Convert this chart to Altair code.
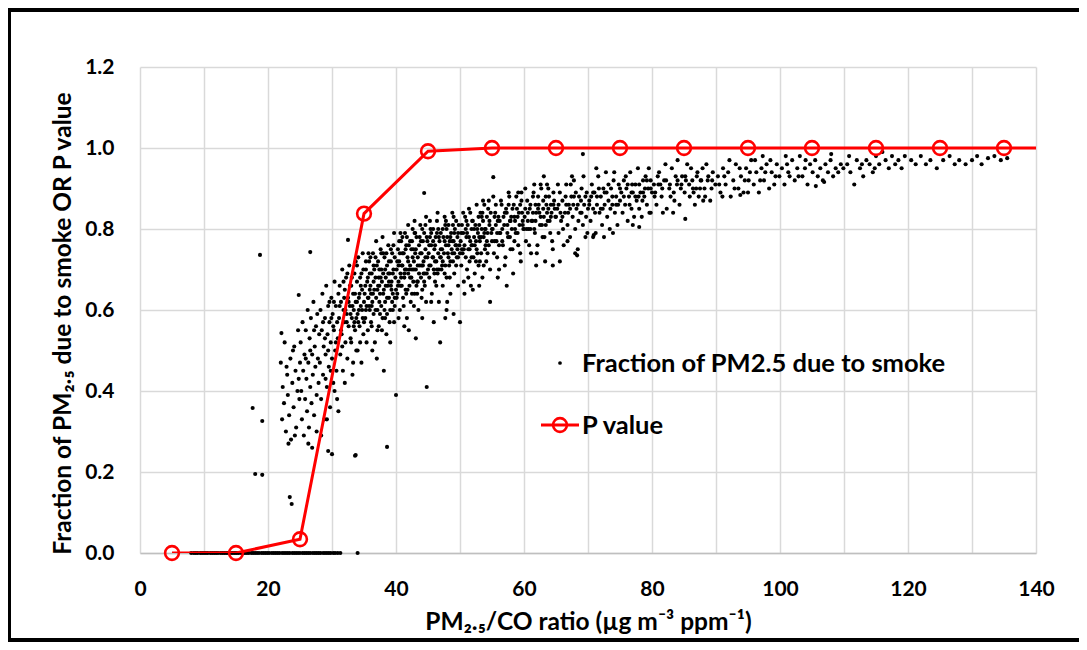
import altair as alt
import pandas as pd

# ---------------- P value series ----------------
p_x = [5, 15, 25, 35, 45, 55, 65, 75, 85, 95, 105, 115, 125, 135, 145]
p_y = [0.0, 0.0, 0.034, 0.838, 0.992, 1.0, 1.0, 1.0, 1.0, 1.0, 1.0, 1.0, 1.0, 1.0, 1.0]

# ---------------- Fraction of PM2.5 due to smoke ----------------
smoke_zero_x = [8.0, 8.4, 8.7, 9.0, 9.4, 9.7, 10.0, 10.3, 10.6, 11.0, 11.3, 11.6, 11.9, 12.2, 12.6, 12.9,
                13.2, 13.5, 13.8, 14.2, 14.5, 14.8, 15.1, 15.4, 15.8, 16.1, 16.4, 16.7, 17.0, 17.4, 17.7,
                18.0, 18.3, 18.6, 19.0, 19.3, 19.6, 19.9, 20.2, 20.6, 20.9, 21.2, 21.5, 21.8, 22.2, 22.5,
                22.8, 23.1, 23.4, 23.8, 24.1, 24.4, 24.7, 25.0, 25.4, 25.7, 26.0, 26.3, 26.6, 27.0, 27.3,
                27.6, 27.9, 28.2, 28.6, 28.9, 29.2, 29.5, 29.8, 30.2, 30.5, 30.9, 31.3, 34.0]

smoke_outliers = [(18.75, 0.736), (26.6, 0.743), (32.5, 0.773), (24.8, 0.637), (22.1, 0.543),
                  (17.6, 0.358), (19.1, 0.326), (18.0, 0.195), (19.1, 0.193), (23.4, 0.138),
                  (23.7, 0.121), (33.7, 0.242), (30.0, 0.244), (29.4, 0.252), (26.9, 0.26),
                  (38.6, 0.262), (33.6, 0.24), (44.8, 0.41), (40.0, 0.39), (44.4, 0.889), (55.2, 0.928)]

smoke_22_28 = [(22.0, 0.47), (22.3, 0.41), (22.5, 0.37), (22.6, 0.52), (22.8, 0.30), (23.0, 0.44), (23.1, 0.39),
               (23.3, 0.34), (23.5, 0.48), (23.6, 0.28), (23.8, 0.42), (24.0, 0.36), (24.1, 0.51), (24.3, 0.45),
               (24.4, 0.31), (24.6, 0.40), (24.7, 0.55), (24.9, 0.38), (25.0, 0.47), (22.2, 0.33), (23.2, 0.27),
               (24.2, 0.29), (22.9, 0.46), (23.9, 0.50), (24.8, 0.43),
               (25.1, 0.52), (25.2, 0.40), (25.3, 0.33), (25.4, 0.57), (25.5, 0.45), (25.6, 0.29), (25.7, 0.49),
               (25.8, 0.38), (25.9, 0.55), (26.0, 0.43), (26.1, 0.35), (26.2, 0.60), (26.3, 0.47), (26.4, 0.31),
               (26.5, 0.53), (26.6, 0.41), (26.7, 0.58), (26.8, 0.37), (26.9, 0.49), (27.0, 0.44), (27.1, 0.62),
               (27.2, 0.34), (27.3, 0.51), (27.4, 0.46), (27.5, 0.56), (27.6, 0.39), (27.7, 0.59), (27.8, 0.48),
               (27.9, 0.42), (28.0, 0.54), (25.9, 0.48), (26.6, 0.50), (27.2, 0.55), (27.6, 0.30), (26.3, 0.27)]

smoke_28_35 = [(28.1, 0.47), (28.2, 0.60), (28.3, 0.38), (28.4, 0.55), (28.5, 0.64), (28.6, 0.44), (28.7, 0.51),
               (28.8, 0.33), (28.9, 0.58), (29.0, 0.49), (29.1, 0.66), (29.2, 0.41), (29.3, 0.54), (29.4, 0.61),
               (29.5, 0.46), (29.6, 0.57), (29.7, 0.36), (29.8, 0.52), (29.9, 0.63), (30.0, 0.48), (30.1, 0.59),
               (30.2, 0.42), (30.3, 0.55), (30.4, 0.67), (30.5, 0.50), (30.6, 0.61), (30.7, 0.45), (30.8, 0.57),
               (30.9, 0.53), (31.0, 0.64), (28.6, 0.57), (29.0, 0.43), (29.4, 0.50), (29.8, 0.45), (30.2, 0.56),
               (30.6, 0.52), (28.9, 0.53), (29.6, 0.62), (30.4, 0.40), (31.0, 0.35), (28.3, 0.29), (29.2, 0.33),
               (30.8, 0.38), (29.9, 0.58), (30.3, 0.62),
               (31.1, 0.58), (31.2, 0.66), (31.3, 0.49), (31.4, 0.62), (31.5, 0.54), (31.6, 0.70), (31.7, 0.45),
               (31.8, 0.60), (31.9, 0.57), (32.0, 0.65), (32.1, 0.52), (32.2, 0.68), (32.3, 0.59), (32.4, 0.48),
               (32.5, 0.63), (32.6, 0.56), (32.7, 0.71), (32.8, 0.61), (32.9, 0.53), (33.0, 0.66), (33.1, 0.58),
               (33.2, 0.44), (33.3, 0.64), (33.4, 0.60), (33.5, 0.69), (33.6, 0.55), (33.7, 0.62), (33.8, 0.50),
               (33.9, 0.67), (34.0, 0.59), (34.1, 0.73), (34.2, 0.63), (34.3, 0.56), (34.4, 0.68), (34.5, 0.61),
               (34.6, 0.47), (34.7, 0.65), (34.8, 0.58), (34.9, 0.70), (35.0, 0.62), (31.4, 0.55), (31.9, 0.63),
               (32.3, 0.57), (32.8, 0.66), (33.2, 0.61), (33.6, 0.64), (34.1, 0.57), (34.5, 0.66), (34.9, 0.54),
               (31.6, 0.51), (32.0, 0.42), (32.6, 0.62), (33.0, 0.52), (33.4, 0.56), (33.9, 0.62), (34.3, 0.64),
               (34.7, 0.60), (31.2, 0.61), (32.9, 0.59), (34.4, 0.52), (33.7, 0.72), (32.4, 0.69), (31.8, 0.67),
               (34.8, 0.74), (33.3, 0.47), (34.0, 0.50), (32.1, 0.60), (33.8, 0.58)]

smoke_35_40 = [(35.1, 0.64), (35.2, 0.58), (35.3, 0.70), (35.4, 0.61), (35.5, 0.67), (35.6, 0.55), (35.7, 0.63),
               (35.8, 0.72), (35.9, 0.60), (36.0, 0.66), (36.1, 0.57), (36.2, 0.69), (36.3, 0.62), (36.4, 0.74),
               (36.5, 0.59), (36.6, 0.65), (36.7, 0.52), (36.8, 0.68), (36.9, 0.63), (37.0, 0.71), (37.1, 0.60),
               (37.2, 0.66), (37.3, 0.56), (37.4, 0.70), (37.5, 0.64), (37.6, 0.75), (37.7, 0.61), (37.8, 0.67),
               (37.9, 0.58), (38.0, 0.69), (38.1, 0.65), (38.2, 0.73), (38.3, 0.62), (38.4, 0.68), (38.5, 0.54),
               (38.6, 0.71), (38.7, 0.66), (38.8, 0.76), (38.9, 0.63), (39.0, 0.69), (39.1, 0.60), (39.2, 0.72),
               (39.3, 0.67), (39.4, 0.74), (39.5, 0.64), (39.6, 0.70), (39.7, 0.57), (39.8, 0.73), (39.9, 0.68),
               (40.0, 0.65), (35.2, 0.66), (35.4, 0.52), (35.6, 0.68), (35.8, 0.61), (36.0, 0.73), (36.2, 0.56),
               (36.4, 0.64), (36.6, 0.70), (36.8, 0.60), (37.0, 0.48), (37.2, 0.72), (37.4, 0.62), (37.6, 0.68),
               (37.8, 0.55), (38.0, 0.74), (38.2, 0.60), (38.4, 0.66), (38.6, 0.63), (38.8, 0.69), (39.0, 0.57),
               (39.2, 0.66), (39.4, 0.62), (39.6, 0.76), (39.8, 0.63), (35.3, 0.60), (35.9, 0.65), (36.5, 0.71),
               (37.1, 0.65), (37.7, 0.70), (38.3, 0.58), (38.9, 0.72), (39.5, 0.60), (36.3, 0.50), (37.9, 0.78),
               (39.1, 0.52), (38.1, 0.45), (36.9, 0.77), (35.7, 0.74), (39.7, 0.79), (37.5, 0.59),
               (33.1, 0.68), (33.5, 0.57), (33.9, 0.71), (34.2, 0.60), (34.6, 0.69), (35.0, 0.57), (35.3, 0.72),
               (35.6, 0.63), (35.9, 0.69), (36.2, 0.61), (36.5, 0.67), (36.8, 0.73), (37.1, 0.55), (37.4, 0.66),
               (37.7, 0.74), (38.0, 0.64), (38.3, 0.70), (38.6, 0.59), (38.9, 0.67), (39.2, 0.75), (39.5, 0.69),
               (39.8, 0.61), (36.1, 0.64), (37.3, 0.68), (38.5, 0.74), (39.3, 0.65)]

smoke_40_45 = [(40.1, 0.70), (40.2, 0.64), (40.3, 0.75), (40.4, 0.67), (40.5, 0.72), (40.6, 0.60), (40.7, 0.69),
               (40.8, 0.77), (40.9, 0.66), (41.0, 0.71), (41.1, 0.63), (41.2, 0.74), (41.3, 0.68), (41.4, 0.79),
               (41.5, 0.65), (41.6, 0.70), (41.7, 0.58), (41.8, 0.73), (41.9, 0.69), (42.0, 0.76), (42.1, 0.66),
               (42.2, 0.71), (42.3, 0.62), (42.4, 0.75), (42.5, 0.70), (42.6, 0.80), (42.7, 0.67), (42.8, 0.72),
               (42.9, 0.64), (43.0, 0.74), (43.1, 0.70), (43.2, 0.78), (43.3, 0.67), (43.4, 0.73), (43.5, 0.60),
               (43.6, 0.76), (43.7, 0.71), (43.8, 0.81), (43.9, 0.68), (44.0, 0.74), (44.1, 0.65), (44.2, 0.77),
               (44.3, 0.72), (44.4, 0.79), (44.5, 0.69), (44.6, 0.75), (44.7, 0.62), (44.8, 0.78), (44.9, 0.73),
               (45.0, 0.70), (40.2, 0.72), (40.4, 0.58), (40.6, 0.74), (40.8, 0.68), (41.0, 0.78), (41.2, 0.61),
               (41.4, 0.70), (41.6, 0.76), (41.8, 0.65), (42.0, 0.55), (42.2, 0.77), (42.4, 0.68), (42.6, 0.73),
               (42.8, 0.61), (43.0, 0.79), (43.2, 0.66), (43.4, 0.71), (43.6, 0.69), (43.8, 0.74), (44.0, 0.63),
               (44.2, 0.71), (44.4, 0.67), (44.6, 0.81), (44.8, 0.69), (40.3, 0.66), (40.9, 0.71), (41.5, 0.75),
               (42.1, 0.70), (42.7, 0.75), (43.3, 0.64), (43.9, 0.77), (44.5, 0.66), (41.3, 0.56), (42.9, 0.82),
               (44.1, 0.58), (43.1, 0.53), (41.9, 0.81), (40.7, 0.79), (44.7, 0.83), (42.5, 0.64),
               (40.1, 0.63), (40.4, 0.71), (40.7, 0.66), (41.0, 0.74), (41.3, 0.69), (41.6, 0.64), (41.9, 0.72),
               (42.2, 0.68), (42.5, 0.77), (42.8, 0.70), (43.1, 0.75), (43.4, 0.67), (43.7, 0.78), (44.0, 0.71),
               (44.3, 0.69), (44.6, 0.73), (44.9, 0.77), (40.5, 0.77), (41.7, 0.78), (42.9, 0.79), (44.1, 0.80)]

smoke_45_50 = [(45.1, 0.74), (45.2, 0.68), (45.3, 0.78), (45.4, 0.71), (45.5, 0.76), (45.6, 0.64), (45.7, 0.73),
               (45.8, 0.80), (45.9, 0.70), (46.0, 0.75), (46.1, 0.67), (46.2, 0.78), (46.3, 0.72), (46.4, 0.82),
               (46.5, 0.69), (46.6, 0.74), (46.7, 0.62), (46.8, 0.77), (46.9, 0.73), (47.0, 0.79), (47.1, 0.70),
               (47.2, 0.75), (47.3, 0.66), (47.4, 0.78), (47.5, 0.74), (47.6, 0.83), (47.7, 0.71), (47.8, 0.76),
               (47.9, 0.68), (48.0, 0.78), (48.1, 0.74), (48.2, 0.81), (48.3, 0.71), (48.4, 0.77), (48.5, 0.64),
               (48.6, 0.79), (48.7, 0.75), (48.8, 0.84), (48.9, 0.72), (49.0, 0.77), (49.1, 0.69), (49.2, 0.80),
               (49.3, 0.76), (49.4, 0.82), (49.5, 0.73), (49.6, 0.78), (49.7, 0.66), (49.8, 0.81), (49.9, 0.76),
               (50.0, 0.74), (45.2, 0.76), (45.5, 0.62), (45.8, 0.77), (46.1, 0.72), (46.4, 0.79), (46.7, 0.70),
               (47.0, 0.73), (47.3, 0.80), (47.6, 0.69), (47.9, 0.60), (48.2, 0.76), (48.5, 0.72), (48.8, 0.77),
               (49.1, 0.74), (49.4, 0.71), (49.7, 0.79), (45.4, 0.80), (46.0, 0.69), (46.6, 0.80), (47.2, 0.71),
               (47.8, 0.82), (48.4, 0.68), (49.0, 0.83), (49.6, 0.75), (46.9, 0.52), (47.7, 0.58), (49.0, 0.59),
               (45.9, 0.57), (48.0, 0.62), (46.3, 0.66),
               (45.2, 0.71), (45.5, 0.79), (45.8, 0.73), (46.1, 0.76), (46.4, 0.70), (46.7, 0.78), (47.0, 0.75),
               (47.3, 0.72), (47.6, 0.77), (47.9, 0.80), (48.2, 0.73), (48.5, 0.78), (48.8, 0.74), (49.1, 0.79),
               (49.4, 0.76), (49.7, 0.73), (45.3, 0.82), (46.5, 0.84), (47.7, 0.81), (48.9, 0.81)]

smoke_50_55 = [(50.1, 0.77), (50.2, 0.71), (50.3, 0.81), (50.4, 0.74), (50.5, 0.79), (50.6, 0.67), (50.7, 0.76),
               (50.8, 0.83), (50.9, 0.73), (51.0, 0.78), (51.1, 0.70), (51.2, 0.81), (51.3, 0.75), (51.4, 0.85),
               (51.5, 0.72), (51.6, 0.77), (51.7, 0.66), (51.8, 0.80), (51.9, 0.76), (52.0, 0.82), (52.1, 0.73),
               (52.2, 0.78), (52.3, 0.69), (52.4, 0.81), (52.5, 0.77), (52.6, 0.86), (52.7, 0.74), (52.8, 0.79),
               (52.9, 0.71), (53.0, 0.81), (53.1, 0.77), (53.2, 0.84), (53.3, 0.74), (53.4, 0.80), (53.5, 0.68),
               (53.6, 0.82), (53.7, 0.78), (53.8, 0.86), (53.9, 0.75), (54.0, 0.80), (54.1, 0.72), (54.2, 0.83),
               (54.3, 0.79), (54.4, 0.85), (54.5, 0.76), (54.6, 0.81), (54.7, 0.70), (54.8, 0.84), (54.9, 0.79),
               (55.0, 0.77), (50.3, 0.75), (50.7, 0.64), (51.1, 0.79), (51.5, 0.75), (51.9, 0.82), (52.3, 0.76),
               (52.7, 0.80), (53.1, 0.72), (53.5, 0.84), (53.9, 0.80), (54.3, 0.74), (54.7, 0.62), (50.0, 0.57),
               (50.5, 0.84), (51.3, 0.68), (52.0, 0.65), (52.9, 0.83), (53.7, 0.71), (54.5, 0.87), (51.8, 0.73),
               (53.3, 0.78), (54.0, 0.76), (50.9, 0.80), (52.5, 0.72), (53.0, 0.66),
               (50.2, 0.79), (50.6, 0.75), (51.0, 0.82), (51.4, 0.78), (51.8, 0.76), (52.2, 0.80), (52.6, 0.75),
               (53.0, 0.78), (53.4, 0.83), (53.8, 0.79), (54.2, 0.77), (54.6, 0.82), (51.6, 0.84), (53.6, 0.87)]

smoke_55_65 = [(55.1, 0.80), (55.3, 0.74), (55.5, 0.84), (55.7, 0.77), (55.9, 0.82), (56.1, 0.70), (56.3, 0.79),
               (56.5, 0.86), (56.7, 0.76), (56.9, 0.81), (57.1, 0.73), (57.3, 0.84), (57.5, 0.78), (57.7, 0.88),
               (57.9, 0.75), (58.1, 0.80), (58.3, 0.69), (58.5, 0.83), (58.7, 0.79), (58.9, 0.85), (59.1, 0.76),
               (59.3, 0.81), (59.5, 0.72), (59.7, 0.84), (59.9, 0.80), (55.2, 0.88), (55.4, 0.77), (55.6, 0.81),
               (55.8, 0.73), (56.0, 0.83), (56.2, 0.79), (56.4, 0.87), (56.6, 0.77), (56.8, 0.83), (57.0, 0.71),
               (57.2, 0.85), (57.4, 0.81), (57.6, 0.89), (57.8, 0.78), (58.0, 0.83), (58.2, 0.75), (58.4, 0.86),
               (58.6, 0.82), (58.8, 0.88), (59.0, 0.79), (59.2, 0.84), (59.4, 0.74), (59.6, 0.87), (59.8, 0.82),
               (60.0, 0.80), (57.3, 0.66), (56.1, 0.76), (58.5, 0.77), (59.1, 0.89), (55.9, 0.68), (57.9, 0.82),
               (60.1, 0.83), (60.3, 0.77), (60.5, 0.87), (60.7, 0.80), (60.9, 0.85), (61.1, 0.74), (61.3, 0.82),
               (61.5, 0.89), (61.7, 0.79), (61.9, 0.84), (62.1, 0.76), (62.3, 0.86), (62.5, 0.81), (62.7, 0.90),
               (62.9, 0.78), (63.1, 0.83), (63.3, 0.72), (63.5, 0.86), (63.7, 0.82), (63.9, 0.88), (64.1, 0.79),
               (64.3, 0.84), (64.5, 0.75), (64.7, 0.87), (64.9, 0.83), (60.2, 0.90), (60.4, 0.80), (60.6, 0.84),
               (60.8, 0.76), (61.0, 0.86), (61.2, 0.82), (61.4, 0.88), (61.6, 0.80), (61.8, 0.86), (62.0, 0.74),
               (62.2, 0.88), (62.4, 0.84), (62.6, 0.91), (62.8, 0.81), (63.0, 0.85), (63.2, 0.78), (63.4, 0.88),
               (63.6, 0.84), (63.8, 0.90), (64.0, 0.82), (64.2, 0.86), (64.4, 0.77), (64.6, 0.89), (64.8, 0.85),
               (65.0, 0.83), (64.5, 0.71), (63.1, 0.93), (61.9, 0.71),
               (55.0, 0.80), (55.4, 0.83), (55.8, 0.79), (56.2, 0.82), (56.6, 0.80), (57.0, 0.84), (57.4, 0.79),
               (57.8, 0.82), (58.2, 0.85), (58.6, 0.80), (59.0, 0.83), (59.4, 0.86), (59.8, 0.81), (60.2, 0.85),
               (60.6, 0.82), (61.0, 0.80), (61.4, 0.84), (61.8, 0.82), (62.2, 0.85), (62.6, 0.83), (63.0, 0.87),
               (63.4, 0.81), (63.8, 0.85), (64.2, 0.83), (64.6, 0.86), (55.6, 0.86), (57.6, 0.86), (59.6, 0.89),
               (61.6, 0.91), (63.6, 0.91)]

smoke_65_80 = [(65.2, 0.85), (65.4, 0.79), (65.6, 0.89), (65.8, 0.82), (66.0, 0.87), (66.2, 0.76), (66.4, 0.84),
               (66.6, 0.91), (66.8, 0.81), (67.0, 0.86), (67.2, 0.78), (67.4, 0.88), (67.6, 0.83), (67.8, 0.92),
               (68.0, 0.80), (68.2, 0.85), (68.4, 0.75), (68.6, 0.88), (68.8, 0.84), (69.0, 0.90), (69.2, 0.81),
               (69.4, 0.86), (69.6, 0.78), (69.8, 0.89), (70.0, 0.85), (65.3, 0.91), (65.7, 0.84), (66.1, 0.80),
               (66.5, 0.88), (66.9, 0.84), (67.3, 0.91), (67.7, 0.86), (68.1, 0.89), (68.5, 0.82), (68.9, 0.87),
               (69.3, 0.93), (69.7, 0.83), (65.6, 0.72), (68.0, 0.74), (68.3, 0.735), (66.8, 0.77), (67.5, 0.93),
               (69.9, 0.79), (69.2, 0.985),
               (70.2, 0.87), (70.4, 0.82), (70.6, 0.91), (70.8, 0.85), (71.0, 0.89), (71.2, 0.79), (71.4, 0.86),
               (71.6, 0.93), (71.8, 0.84), (72.0, 0.88), (72.2, 0.81), (72.4, 0.90), (72.6, 0.86), (72.8, 0.94),
               (73.0, 0.83), (73.2, 0.87), (73.4, 0.80), (73.6, 0.90), (73.8, 0.86), (74.0, 0.92), (74.2, 0.84),
               (74.4, 0.88), (74.6, 0.81), (74.8, 0.91), (75.0, 0.87), (70.5, 0.88), (71.1, 0.84), (71.7, 0.90),
               (72.3, 0.85), (72.9, 0.89), (73.5, 0.85), (74.1, 0.94), (74.7, 0.86), (70.8, 0.78), (70.9, 0.785),
               (72.5, 0.78), (73.9, 0.79), (71.3, 0.95),
               (75.2, 0.89), (75.4, 0.84), (75.6, 0.92), (75.8, 0.86), (76.0, 0.90), (76.2, 0.82), (76.4, 0.88),
               (76.6, 0.94), (76.8, 0.85), (77.0, 0.89), (77.2, 0.83), (77.4, 0.91), (77.6, 0.87), (77.8, 0.95),
               (78.0, 0.85), (78.2, 0.89), (78.4, 0.83), (78.6, 0.92), (78.8, 0.88), (79.0, 0.93), (79.2, 0.86),
               (79.4, 0.90), (79.6, 0.84), (79.8, 0.92), (80.0, 0.89), (75.9, 0.93), (76.9, 0.91), (77.9, 0.88),
               (78.9, 0.90), (79.5, 0.95), (77.0, 0.81), (78.0, 0.805), (79.8, 0.84), (76.5, 0.86), (78.5, 0.87),
               (65.4, 0.86), (66.0, 0.83), (66.6, 0.86), (67.2, 0.85), (67.8, 0.88), (68.4, 0.86), (69.0, 0.84),
               (69.6, 0.88), (70.2, 0.86), (70.8, 0.89), (71.4, 0.88), (72.0, 0.85), (72.6, 0.89), (73.2, 0.91),
               (73.8, 0.88), (74.4, 0.86), (75.0, 0.90), (75.6, 0.88), (76.2, 0.91), (76.8, 0.89), (77.4, 0.88),
               (78.0, 0.91), (78.6, 0.89), (79.2, 0.92), (79.8, 0.90)]

smoke_80_100 = [(80.3, 0.91), (80.7, 0.86), (81.1, 0.94), (81.5, 0.88), (81.9, 0.92), (82.3, 0.85), (82.7, 0.90),
                (83.1, 0.95), (83.5, 0.87), (83.9, 0.91), (84.3, 0.86), (84.7, 0.93), (85.1, 0.89), (85.5, 0.96),
                (85.9, 0.88), (86.3, 0.92), (86.7, 0.86), (87.1, 0.94), (87.5, 0.90), (87.9, 0.95), (88.3, 0.88),
                (88.7, 0.92), (89.1, 0.87), (89.5, 0.94), (89.9, 0.91), (80.5, 0.89), (81.3, 0.91), (82.1, 0.96),
                (82.9, 0.88), (83.7, 0.93), (84.5, 0.90), (85.3, 0.92), (86.1, 0.95), (86.9, 0.90), (87.7, 0.92),
                (88.5, 0.96), (89.3, 0.90), (81.7, 0.84), (83.3, 0.84), (85.2, 0.825), (86.5, 0.89), (88.0, 0.87),
                (84.0, 0.97), (80.9, 0.93), (87.3, 0.88),
                (80.4, 0.88), (81.0, 0.91), (81.6, 0.90), (82.2, 0.92), (82.8, 0.91), (83.4, 0.89), (84.0, 0.92),
                (84.6, 0.91), (85.2, 0.93), (85.8, 0.91), (86.4, 0.90), (87.0, 0.93), (87.6, 0.92), (88.2, 0.90),
                (88.8, 0.93), (89.4, 0.92),
                (90.3, 0.93), (90.7, 0.89), (91.1, 0.95), (91.5, 0.91), (91.9, 0.94), (92.3, 0.88), (92.7, 0.92),
                (93.1, 0.96), (93.5, 0.90), (93.9, 0.93), (94.3, 0.89), (94.7, 0.95), (95.1, 0.92), (95.5, 0.97),
                (95.9, 0.91), (96.3, 0.94), (96.7, 0.89), (97.1, 0.95), (97.5, 0.92), (97.9, 0.96), (98.3, 0.90),
                (98.7, 0.94), (99.1, 0.91), (99.5, 0.96), (99.9, 0.93), (90.5, 0.91), (91.3, 0.93), (92.1, 0.97),
                (92.9, 0.90), (93.7, 0.95), (94.5, 0.92), (95.3, 0.94), (96.1, 0.97), (96.9, 0.92), (97.7, 0.94),
                (98.5, 0.97), (99.3, 0.93), (93.8, 0.884), (95.0, 0.89), (91.0, 0.88), (97.3, 0.98)]

smoke_100_136 = [(100.3, 0.95), (100.7, 0.91), (101.1, 0.96), (101.5, 0.93), (101.9, 0.97), (102.3, 0.92),
                 (102.7, 0.95), (103.1, 0.98), (103.5, 0.93), (103.9, 0.95), (104.3, 0.91), (104.7, 0.96),
                 (105.1, 0.94), (105.5, 0.97), (105.9, 0.93), (106.3, 0.95), (106.7, 0.92), (107.1, 0.96),
                 (107.5, 0.94), (107.9, 0.97), (108.3, 0.93), (108.7, 0.95), (109.1, 0.94), (109.5, 0.96),
                 (109.9, 0.95), (101.3, 0.94), (102.9, 0.93), (104.0, 0.97), (105.6, 0.906), (106.9, 0.916),
                 (108.0, 0.985), (100.9, 0.98),
                 (110.5, 0.96), (111.0, 0.94), (111.6, 0.91), (112.0, 0.97), (112.5, 0.95), (113.0, 0.93),
                 (113.5, 0.97), (114.0, 0.96), (114.5, 0.94), (115.0, 0.98), (115.5, 0.96), (116.0, 0.99),
                 (116.5, 0.97), (117.0, 0.95), (117.5, 0.98), (118.0, 0.96), (118.5, 0.97), (119.0, 0.95),
                 (119.5, 0.98), (110.8, 0.98), (112.8, 0.96), (114.8, 0.95),
                 (120.5, 0.97), (121.2, 0.96), (122.0, 0.98), (122.8, 0.96), (123.5, 0.97), (124.5, 0.95),
                 (125.5, 0.97), (126.5, 0.98), (127.3, 0.96), (128.0, 0.97), (129.0, 0.96), (130.0, 0.97),
                 (130.8, 0.98), (131.5, 0.96), (132.5, 0.975), (133.5, 0.98), (134.5, 0.97), (135.5, 0.975)]

# ---------------- build tables ----------------
pairs = (smoke_outliers + smoke_22_28 + smoke_28_35 + smoke_35_40 + smoke_40_45 + smoke_45_50
         + smoke_50_55 + smoke_55_65 + smoke_65_80 + smoke_80_100 + smoke_100_136)
smoke_df = pd.DataFrame({
    "x": smoke_zero_x + [p[0] for p in pairs],
    "y": [0.0] * len(smoke_zero_x) + [p[1] for p in pairs],
})
p_df = pd.DataFrame({"x": p_x, "y": p_y})

FONT = "Lato"

x_enc = alt.X("x:Q",
              scale=alt.Scale(domain=[0, 140], nice=False, zero=False),
              axis=alt.Axis(values=list(range(0, 141, 10)),
                            labelExpr="datum.value % 20 == 0 ? datum.label : ''",
                            title="PM₂.₅/CO ratio (µg m⁻³ ppm⁻¹)",
                            labelFlush=False, labelOverlap=False,
                            labelPadding=25, titlePadding=11,
                            domainColor="#bfbfbf", domainWidth=1.5))
y_enc = alt.Y("y:Q",
              scale=alt.Scale(domain=[0, 1.2], nice=False),
              axis=alt.Axis(values=[0, 0.2, 0.4, 0.6, 0.8, 1.0, 1.2], format=".1f",
                            title="Fraction of PM₂.₅ due to smoke OR P value",
                            labelFlush=False, labelOverlap=False, titleY=256,
                            labelPadding=26, titlePadding=9, domain=False))

scatter = alt.Chart(smoke_df).mark_circle(size=17, color="black", opacity=1).encode(x=x_enc, y=y_enc)

p_line = alt.Chart(p_df).mark_line(color="#ff0000", strokeWidth=3, clip=True).encode(x="x:Q", y="y:Q")
p_pts = alt.Chart(p_df).transform_filter("datum.x <= 140").mark_point(
    shape="circle", size=190, filled=False, color="#ff0000", strokeWidth=2.6, opacity=1
).encode(x="x:Q", y="y:Q")

# in-plot legend
one = pd.DataFrame({"k": [0]})
leg_dot = alt.Chart(one).mark_circle(size=14, color="black", opacity=1).encode(
    x=alt.value(420), y=alt.value(296))
leg_txt1 = alt.Chart(one).mark_text(text="Fraction of PM2.5 due to smoke", align="left", baseline="middle",
                                    font=FONT, fontWeight="bold", fontSize=25.5, color="black").encode(
    x=alt.value(442), y=alt.value(297))
leg_line = alt.Chart(one).mark_rule(color="#ff0000", strokeWidth=3).encode(
    x=alt.value(401), x2=alt.value(439), y=alt.value(358))
leg_circ = alt.Chart(one).mark_point(shape="circle", size=190, filled=False, color="#ff0000",
                                     strokeWidth=2.6, opacity=1).encode(x=alt.value(420), y=alt.value(358))
leg_txt2 = alt.Chart(one).mark_text(text="P value", align="left", baseline="middle",
                                    font=FONT, fontWeight="bold", fontSize=25.5, color="black").encode(
    x=alt.value(442), y=alt.value(359))

# outer frame of the figure
frame = alt.Chart(one).mark_rect(fill=None, stroke="black", strokeWidth=4).encode(
    x=alt.value(-131), x2=alt.value(960), y=alt.value(-57), y2=alt.value(573))

chart = alt.layer(scatter, p_line, p_pts, leg_dot, leg_txt1, leg_line, leg_circ, leg_txt2, frame).properties(
    width=896, height=486,
    padding={"left": 132, "top": 59, "right": 43, "bottom": 89},
    autosize=alt.AutoSizeParams(type="none"),
    background="white",
).configure_view(stroke=None).configure_axis(
    labelFont=FONT, labelFontWeight="bold", labelFontSize=21, labelColor="black",
    titleFont=FONT, titleFontWeight="bold", titleFontSize=24.5, titleColor="black",
    gridColor="#d9d9d9", gridWidth=1.5, tickSize=0, ticks=False,
)

chart.save("out.html", embed_options={"renderer": "svg", "actions": False})
